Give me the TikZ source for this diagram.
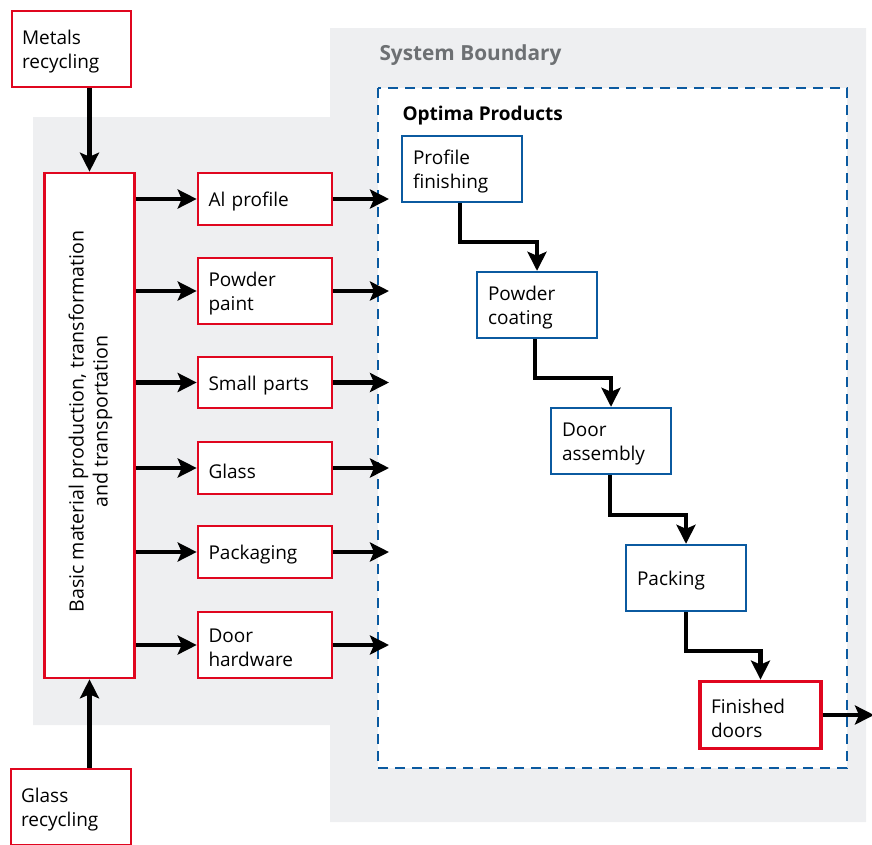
\documentclass[tikz,border=0pt]{standalone}
\usepackage{fontspec}
\setmainfont{Open Sans}
\usetikzlibrary{arrows.meta,calc}
\definecolor{myred}{HTML}{E0061F}
\definecolor{myblue}{HTML}{0B5AA0}
\definecolor{mygrey}{HTML}{EEEFF1}
\definecolor{mytext}{HTML}{6D7073}
\begin{document}
\begin{tikzpicture}[x=1pt,y=-1pt,
  font=\fontsize{19}{24}\selectfont,
  redbox/.style={draw=myred,line width=2.6pt,fill=white,inner sep=0pt,anchor=center},
  bluebox/.style={draw=myblue,line width=2.4pt,fill=white,inner sep=0pt,
    minimum width=120pt,minimum height=66pt},
  bt/.style={text width=#1,align=left,inner sep=0pt,yshift=-3pt},
  arr/.style={line width=4.4pt,-{Stealth[length=19pt,width=19pt,inset=4pt]}},
  flow/.style={arr}]
\useasboundingbox (0,0) rectangle (872,844);
% grey background
\fill[mygrey] (33,117) -- (330,117) -- (330,28) -- (866,28) -- (866,822)
  -- (330,822) -- (330,725) -- (33,725) -- cycle;
\node[anchor=west,text=mytext,font=\fontsize{20.8}{22}\selectfont\bfseries] (sb) at (376,55) {System Boundary};
% dashed system
\draw[myblue,line width=2.7pt,dash pattern=on 10pt off 7pt,fill=white] (378,88) rectangle (847,768);
\node[anchor=west,font=\fontsize{19}{22}\selectfont\bfseries] (op) at (399,115.5) {Optima Products};
% left boxes
\node[redbox,minimum width=119pt,minimum height=76pt,label={[bt=99pt]center:{Metals\\recycling}}] (metals) at (71.5,49) {};
\node[redbox,minimum width=120pt,minimum height=76pt,label={[bt=100pt]center:{Glass\\recycling}}] (glassr) at (71,807) {};
\node[redbox,minimum width=90pt,minimum height=505pt] (basic) at (89.5,425.5) {};
\node[rotate=90,align=center,font=\fontsize{19.6}{24}\selectfont] (basictxt) at ([xshift=1pt,yshift=4pt]basic.center) {Basic material production, transformation\\and transportation};
% middle red boxes
\tikzset{mid/.style={redbox,minimum width=134pt,label={[bt=113pt]center:{#1}}}}
\node[mid={Al profile},minimum height=52pt] (al) at (265,199) {};
\node[mid={Powder\\paint},minimum height=66pt] (pp) at (265,291) {};
\node[mid={Small parts},minimum height=51pt] (sp) at (265,382.5) {};
\node[mid={Glass},minimum height=52pt] (gl) at (265,468) {};
\node[mid={Packaging},minimum height=52pt] (pk) at (265,552) {};
\node[mid={Door\\hardware},minimum height=66pt] (dh) at (265,645) {};
% blue boxes
\node[bluebox,label={[bt=98pt]center:{Profile\\finishing}}] (pf) at (462,169) {};
\node[bluebox,label={[bt=98pt]center:{Powder\\coating}}] (pc) at (537,305) {};
\node[bluebox,label={[bt=98pt]center:{Door\\assembly}}] (da) at (611,441) {};
\node[bluebox,label={[bt=98pt]center:{Packing}}] (pa) at (686,578) {};
\node[redbox,line width=3.8pt,minimum width=121pt,minimum height=67pt,label={[bt=99pt]center:{Finished\\doors}}] (fd) at (760.5,715) {};
% arrows
\draw[arr] (basic.north |- metals.south) -- (basic.north);
\draw[arr] (basic.south |- glassr.north) -- (basic.south);
\foreach \n in {al,pp,sp,gl,pk,dh}{
  \draw[arr] (basic.east |- \n.west) -- (\n.west);
  \coordinate (\n-in) at (389,0);
  \draw[arr] (\n.east) -- (\n-in |- \n.east);
}
\draw[flow] ([xshift=-2pt]pf.south) -- ++(0,39) -| (pc.north);
\draw[flow] ([xshift=-2pt]pc.south) -- ++(0,39) -| (da.north);
\draw[flow] ([xshift=-1pt]da.south) -- ++(0,40) -| (pa.north);
\draw[flow] (pa.south) -- ++(0,39) -| (fd.north);
\coordinate (out) at (874,715);
\draw[arr] (fd.east) -- (out);
\end{tikzpicture}
\end{document}
